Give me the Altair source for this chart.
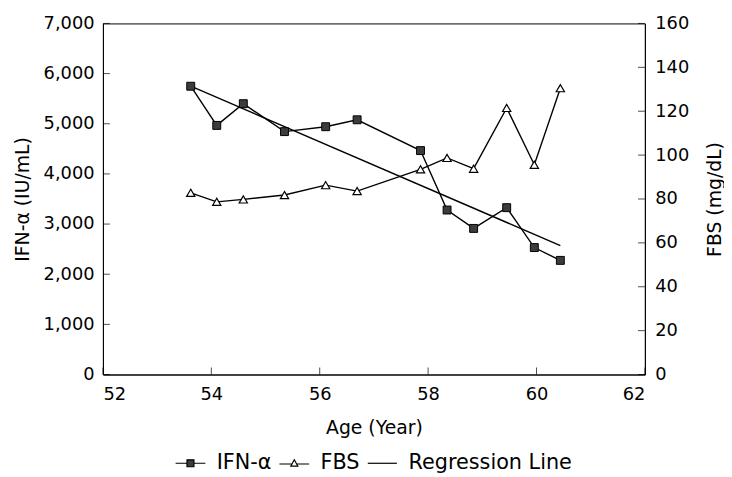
import altair as alt
import pandas as pd

# ---- data ----
ages = [53.62, 54.10, 54.59, 55.35, 56.11, 56.69, 57.86, 58.35, 58.84, 59.45, 59.96, 60.44]
ifn = [5748, 4967, 5400, 4843, 4941, 5079, 4465, 3280, 2913, 3327, 2531, 2276]
fbs = [82.8, 78.7, 79.8, 81.8, 86.3, 83.6, 93.5, 98.7, 93.8, 121.5, 95.6, 130.5]
reg_age = [53.62, 60.44]
reg_ifn = [5748, 2571]
x_ticks = [52, 54, 56, 58, 60, 62]
left_ticks = [0, 1000, 2000, 3000, 4000, 5000, 6000, 7000]
right_ticks = [0, 20, 40, 60, 80, 100, 120, 140, 160]
series = ["IFN-α", "FBS", "Regression Line"]

W, H = 548, 355
FONT = "DejaVu Sans"
FS = 18     # tick labels
TFS = 19    # axis titles
LFS = 21    # legend labels

xscale = alt.Scale(domain=[52, 62], nice=False, zero=False)
yl_scale = alt.Scale(domain=[0, 7000], nice=False)
yr_scale = alt.Scale(domain=[0, 160], nice=False)

x_axis = alt.Axis(values=x_ticks, format="d", title="Age (Year)", labelPadding=11,
                  titleY=60, titleBaseline="alphabetic")
yl_axis = alt.Axis(values=left_ticks, format=",d", title="IFN-α (IU/mL)", labelPadding=9,
                   titleX=-81, titleY=H / 2, titleAngle=270, titleBaseline="middle",
                   titleAlign="center")
yr_axis = alt.Axis(orient="right", values=right_ticks, format="d", title="FBS (mg/dL)",
                   labelPadding=10, titleX=70, titleY=H / 2, titleAngle=270,
                   titleBaseline="middle", titleAlign="center")

main_df = pd.DataFrame({"age": ages, "ifn": ifn, "fbs": fbs})
reg_df = pd.DataFrame({"age": reg_age, "ifn": reg_ifn})

X = alt.X("age:Q", scale=xscale, axis=x_axis)
YL = alt.Y("ifn:Q", scale=yl_scale, axis=yl_axis)
YR = alt.Y("fbs:Q", scale=yr_scale, axis=yr_axis)

reg_line = alt.Chart(reg_df).mark_line(color="black", strokeWidth=1.4).encode(x=X, y=YL)
ifn_line = alt.Chart(main_df).mark_line(color="black", strokeWidth=1.4).encode(x=X, y=YL)
ifn_pts = alt.Chart(main_df).mark_point(
    shape="square", filled=True, fill="#3c3c3c", stroke="black", strokeWidth=1,
    size=64, opacity=1).encode(x=X, y=YL)

# inward tick marks (the reference draws its ticks inside the frame)
xt = alt.Chart(pd.DataFrame({"age": x_ticks})).mark_tick(
    orient="vertical", size=7, thickness=1, color="black").encode(
    x=X, y=alt.value(H - 3.5))
lt = alt.Chart(pd.DataFrame({"ifn": left_ticks})).mark_tick(
    orient="horizontal", size=7, thickness=1, color="black").encode(
    y=YL, x=alt.value(3.5))

paths = [
    "M-2.15,0H-0.5M0.5,0H2.15M-0.5,-0.5H0.5V0.5H-0.5Z",
    "M-2.15,0.1H-0.333M0.333,0.1H2.15M0,-0.5L0.5,0.4H-0.5Z",
    "M-2.1,0H2.1",
]
legend_layer = alt.Chart(pd.DataFrame({"series": series})).transform_filter("false").mark_point(
    filled=True, stroke="black", strokeWidth=1.2, opacity=1).encode(
    shape=alt.Shape("series:N", scale=alt.Scale(domain=series, range=paths),
                    legend=alt.Legend(title=None)),
    fill=alt.Fill("series:N", scale=alt.Scale(domain=series, range=["#3c3c3c", "white", "black"]),
                  legend=alt.Legend(title=None)),
)

fbs_line = alt.Chart(main_df).mark_line(color="black", strokeWidth=1.4).encode(x=X, y=YR)
fbs_pts = alt.Chart(main_df).mark_point(
    shape="triangle-up", filled=True, fill="white", stroke="black", strokeWidth=1.2,
    size=70, opacity=1).encode(x=X, y=YR)
rt = alt.Chart(pd.DataFrame({"fbs": right_ticks})).mark_tick(
    orient="horizontal", size=7, thickness=1, color="black").encode(
    y=YR, x=alt.value(W - 3.5))

left = alt.layer(reg_line, ifn_line, ifn_pts, xt, lt, legend_layer)
right = alt.layer(fbs_line, fbs_pts, rt)

chart = alt.layer(left, right).resolve_scale(y="independent").properties(
    width=W, height=H,
    padding={"left": 96, "top": 13, "right": 80, "bottom": 100},
    autosize=alt.AutoSizeParams(type="none"),
).configure_view(stroke="black", strokeWidth=1).configure_axis(
    labelFont=FONT, labelFontSize=FS, labelColor="black",
    titleFont=FONT, titleFontSize=TFS, titleFontWeight="normal", titleColor="black",
    domainColor="black", domainWidth=1, grid=False, ticks=False, tickSize=0,
).configure_legend(
    orient="none", legendX=78, legendY=434, direction="horizontal",
    labelFont=FONT, labelFontSize=LFS, labelColor="black", labelLimit=400,
    symbolSize=196, symbolStrokeWidth=1.2, labelOffset=16, columnPadding=5, padding=0,
)

chart.save("out.html", embed_options={"renderer": "svg", "actions": False})
